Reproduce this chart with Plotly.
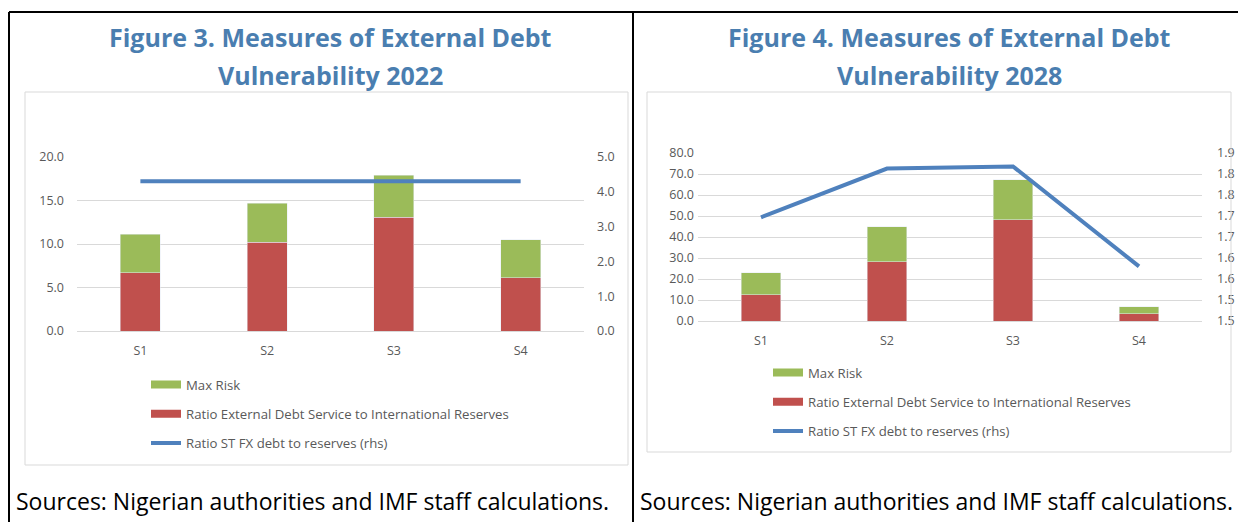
import plotly.graph_objects as go

# ---------------- data ----------------
categories = ["S1", "S2", "S3", "S4"]

debt_service_2022 = [6.7, 10.2, 13.1, 6.1]
max_risk_2022 = [4.4, 4.5, 4.8, 4.4]
st_fx_2022 = [4.3, 4.3, 4.3, 4.3]

debt_service_2028 = [12.4, 28.1, 48.2, 3.5]
max_risk_2028 = [10.5, 16.7, 19.1, 3.3]
st_fx_2028 = [1.747, 1.863, 1.868, 1.630]

left_ticks_2022 = [0, 5, 10, 15, 20]
right_ticks_2022 = [0, 1, 2, 3, 4, 5]
left_ticks_2028 = [0, 10, 20, 30, 40, 50, 60, 70, 80]
right_tickvals_2028 = [1.5, 1.55, 1.6, 1.65, 1.7, 1.75, 1.8, 1.85, 1.9]
right_ticktext_2028 = ["1.5", "1.5", "1.6", "1.6", "1.7", "1.7", "1.8", "1.8", "1.9"]

name_risk = "Max Risk"
name_service = "Ratio External Debt Service to International Reserves"
name_stfx = "Ratio ST FX debt to reserves (rhs)"

titles = [["Figure 3. Measures of External Debt", "Vulnerability 2022"],
          ["Figure 4. Measures of External Debt", "Vulnerability 2028"]]
source_text = "Sources: Nigerian authorities and IMF staff calculations."

# ---------------- styling ----------------
W, H = 1238, 522
RED = "#c0504d"
GREEN = "#9bbb59"
BLUE = "#4f81bd"
GRID = "#d9d9d9"
TICK = "#595959"
TITLE = "#4a7eb0"
FONT = "Open Sans"


def px(x):
    return x / W


def py(y):
    return 1 - y / H


fig = go.Figure()

# ---- chart 1 (2022) ----
fig.add_trace(go.Bar(x=categories, y=debt_service_2022, marker_color=RED, name=name_service,
                     xaxis="x", yaxis="y", showlegend=False))
fig.add_trace(go.Bar(x=categories, y=max_risk_2022, marker_color=GREEN, name=name_risk,
                     xaxis="x", yaxis="y", showlegend=False))
fig.add_trace(go.Scatter(x=categories, y=st_fx_2022, mode="lines", line=dict(color=BLUE, width=4),
                         name=name_stfx, xaxis="x", yaxis="y2", showlegend=False))

# ---- chart 2 (2028) ----
fig.add_trace(go.Bar(x=categories, y=debt_service_2028, marker_color=RED, name=name_service,
                     xaxis="x2", yaxis="y3", showlegend=False))
fig.add_trace(go.Bar(x=categories, y=max_risk_2028, marker_color=GREEN, name=name_risk,
                     xaxis="x2", yaxis="y3", showlegend=False))
fig.add_trace(go.Scatter(x=categories, y=st_fx_2028, mode="lines", line=dict(color=BLUE, width=4),
                         name=name_stfx, xaxis="x2", yaxis="y4", showlegend=False))

# ---- legend entries (wide swatches) ----
for leg, xa, ya in [("legend", "x", "y"), ("legend2", "x2", "y3")]:
    for i, (nm, col, w) in enumerate([(name_risk, GREEN, 8), (name_service, RED, 8), (name_stfx, BLUE, 4)]):
        fig.add_trace(go.Scatter(x=[None], y=[None], mode="lines", line=dict(color=col, width=w),
                                 name=nm, legend=leg, legendgroup=f"{leg}{i}", showlegend=True,
                                 xaxis=xa, yaxis=ya, hoverinfo="skip"))

tickfont = dict(family=FONT, size=12.5, color=TICK)
legfont = dict(family=FONT, size=13.2, color=TICK)

fig.update_layout(
    width=W, height=H,
    margin=dict(l=0, r=0, t=0, b=0, pad=0, autoexpand=False),
    paper_bgcolor="white", plot_bgcolor="white",
    barmode="stack", bargap=0.685,
    font=dict(family=FONT),
    xaxis=dict(domain=[px(77), px(584)], anchor="y", showline=True, linecolor=GRID, linewidth=1,
               ticks="", tickfont=tickfont, showgrid=False, ticklabelstandoff=8, automargin=False),
    yaxis=dict(domain=[py(331), py(157)], anchor="x", range=[0, 20], tickvals=left_ticks_2022,
               tickformat=".1f", showgrid=True, gridcolor=GRID, zeroline=False, ticks="",
               tickfont=tickfont, ticklabelstandoff=12, automargin=False),
    yaxis2=dict(overlaying="y", anchor="x", side="right", range=[0, 5], tickvals=right_ticks_2022,
                tickformat=".1f", showgrid=False, zeroline=False, ticks="", tickfont=tickfont,
                ticklabelstandoff=12, automargin=False),
    xaxis2=dict(domain=[px(698), px(1202)], anchor="y3", showline=True, linecolor=GRID, linewidth=1,
                ticks="", tickfont=tickfont, showgrid=False, ticklabelstandoff=8, automargin=False),
    yaxis3=dict(domain=[py(321), py(153)], anchor="x2", range=[0, 80], tickvals=left_ticks_2028,
                tickformat=".1f", showgrid=True, gridcolor=GRID, zeroline=False, ticks="",
                tickfont=tickfont, ticklabelstandoff=3, automargin=False),
    yaxis4=dict(overlaying="y3", anchor="x2", side="right", range=[1.5, 1.9],
                tickvals=right_tickvals_2028, ticktext=right_ticktext_2028, showgrid=False,
                zeroline=False, ticks="", tickfont=tickfont, ticklabelstandoff=14, automargin=False),
    legend=dict(x=px(146), y=py(369.5), xanchor="left", yanchor="top", bgcolor="rgba(0,0,0,0)",
                font=legfont, traceorder="grouped", tracegroupgap=9, itemwidth=30),
    legend2=dict(x=px(768), y=py(357.5), xanchor="left", yanchor="top", bgcolor="rgba(0,0,0,0)",
                 font=legfont, traceorder="grouped", tracegroupgap=9, itemwidth=30),
)

# ---- titles and sources ----
annotations = []
for cx, lines in [(330, titles[0]), (949, titles[1])]:
    for ly, txt in zip([37, 75], lines):
        annotations.append(dict(x=px(cx), y=py(ly), xref="paper", yref="paper", text=f"<b>{txt}</b>",
                                showarrow=False, xanchor="center", yanchor="middle",
                                font=dict(family=FONT, size=25, color=TITLE)))
for sx in [14, 638]:
    annotations.append(dict(x=px(sx), y=py(501), xref="paper", yref="paper", text=source_text,
                            showarrow=False, xanchor="left", yanchor="middle",
                            font=dict(family=FONT, size=23, color="black")))
fig.update_layout(annotations=annotations)

# ---- frame lines and chart-area boxes ----
shapes = [
    dict(type="line", xref="paper", yref="paper", x0=px(9), x1=1, y0=py(12), y1=py(12),
         line=dict(color="black", width=2)),
    dict(type="line", xref="paper", yref="paper", x0=px(9), x1=px(9), y0=py(12), y1=0,
         line=dict(color="black", width=2)),
    dict(type="line", xref="paper", yref="paper", x0=px(633), x1=px(633), y0=py(12), y1=0,
         line=dict(color="black", width=2)),
    dict(type="rect", xref="paper", yref="paper", x0=px(25), x1=px(628), y0=py(465), y1=py(92),
         line=dict(color=GRID, width=1)),
    dict(type="rect", xref="paper", yref="paper", x0=px(647), x1=px(1231), y0=py(452), y1=py(92),
         line=dict(color=GRID, width=1)),
]
fig.update_layout(shapes=shapes)

fig.write_html("out.html", config={"displayModeBar": False},
               post_script="document.body.style.margin='0';document.body.style.overflow='hidden';")
